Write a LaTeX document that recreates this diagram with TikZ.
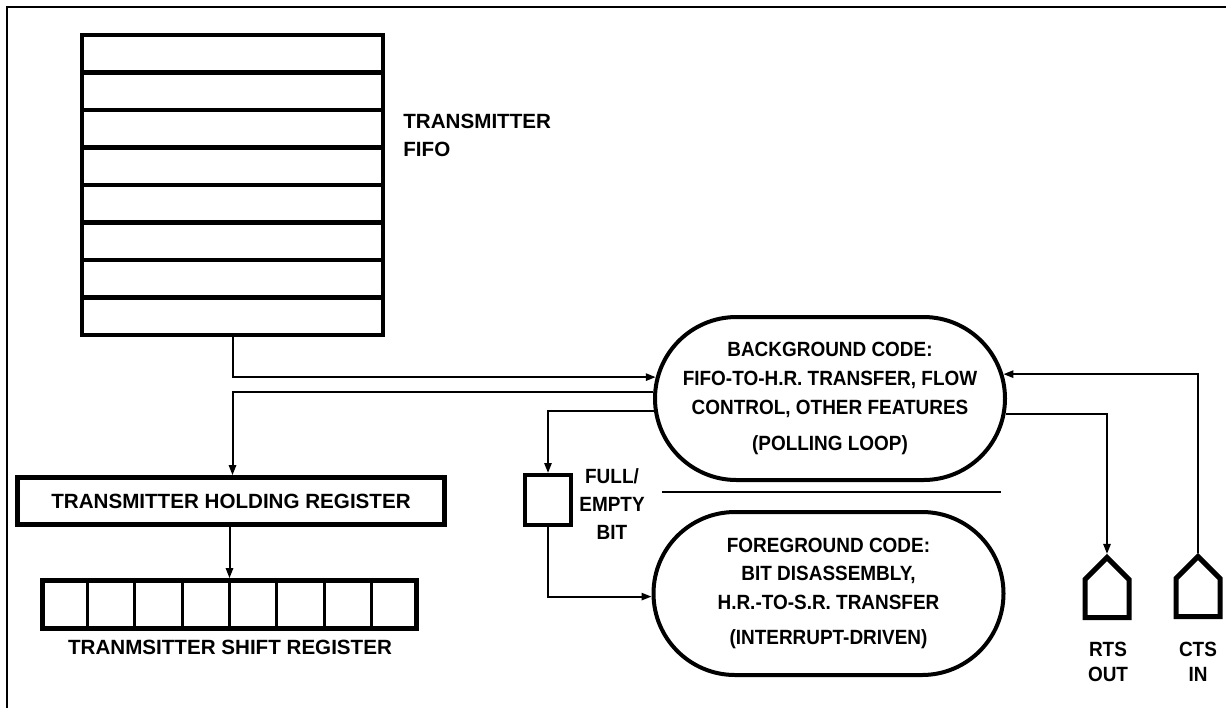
\documentclass[tikz,border=0pt]{standalone}
\usepackage{fontspec}
\setmainfont{Liberation Sans}
\newfontfamily\narrowsans[FakeStretch=0.92]{Liberation Sans}
\usetikzlibrary{positioning,calc,arrows.meta,shapes.misc,shapes.symbols}

\tikzset{
  lbl/.style={font=\fontsize{10.3}{14.3}\selectfont\bfseries, inner sep=0pt},
  nlbl/.style={lbl, font=\narrowsans\fontsize{10.3}{14.3}\selectfont\bfseries},
  heavy/.style={draw, line width=2.3pt, inner sep=0pt},
  wire/.style={line width=1pt},
  arr/.style={wire, -{Triangle[length=5pt,width=3.6pt]}},
  codeloop/.style={draw, line width=2pt, rounded rectangle, inner sep=0pt,
    minimum width=175pt, minimum height=81.5pt},
  port/.style={heavy, line width=2.5pt, signal, signal to=north, signal from=nowhere,
    minimum width=22pt, minimum height=19pt, anchor=south},
}

\begin{document}
\begin{tikzpicture}[x=0.5pt,y=-0.5pt]
  \useasboundingbox (0,0) rectangle (1226,708);
  % Frame
  \draw[wire] (7,708) -- (7,7) -- (1226,7);
  % FIFO
  \node[heavy, outer sep=0pt, minimum width=150.5pt, minimum height=150pt] (fifo) at (232.5,185) {};
  \foreach \i in {1,...,7}
    \draw[line width=2.3pt] ($(fifo.north west)!\i/8!(fifo.south west)$) -- ($(fifo.north east)!\i/8!(fifo.south east)$);
  \node[lbl, align=left, anchor=west] (fifolbl) at (403,135.5) {TRANSMITTER\\FIFO};
  % Holding register
  \node[heavy, lbl, minimum width=213.5pt, minimum height=23.5pt] (thr) at (231,501) {TRANSMITTER HOLDING REGISTER};
  % Shift register
  \node[heavy, minimum width=187pt, minimum height=24pt] (tsr) at (229.5,604.5) {};
  \foreach \i in {1,...,7}
    \draw[line width=1.4pt] ($(tsr.north west)!\i/8!(tsr.north east)$) -- ($(tsr.south west)!\i/8!(tsr.south east)$);
  \node[lbl] (tsrlbl) at (230,647) {TRANMSITTER SHIFT REGISTER};
  % Full/empty bit
  \node[heavy, line width=2pt, minimum width=23pt, minimum height=25pt] (feb) at (548,500) {};
  \node[nlbl, align=center, font=\narrowsans\fontsize{10.3}{13.8}\selectfont\bfseries] (feblbl) at (612,504) {FULL/\\EMPTY\\BIT};
  % Background and foreground code
  \node[codeloop] (bg) at (830,398.5) {};
  \node[nlbl, align=center] (bgtxt) at (bg.center) {BACKGROUND CODE:\\FIFO-TO-H.R. TRANSFER, FLOW\\CONTROL, OTHER FEATURES\\[3.7pt](POLLING LOOP)};
  \node[codeloop] (fg) at (828.5,593.5) {};
  \node[nlbl, align=center] (fgtxt) at (fg.center) {FOREGROUND CODE:\\BIT DISASSEMBLY,\\H.R.-TO-S.R. TRANSFER\\[3.5pt](INTERRUPT-DRIVEN)};
  \draw[wire] (662,492) -- (1001,492);
  % RTS / CTS pins
  \node[port] (rts) at (1107,620) {};
  \node[port] (cts) at (1198,619) {};
  \node[nlbl, align=center, font=\narrowsans\fontsize{10.3}{12.5}\selectfont\bfseries] (rtslbl) at (1108,662) {RTS\\OUT};
  \node[nlbl, align=center, font=\narrowsans\fontsize{10.3}{12.5}\selectfont\bfseries] (ctslbl) at (1198,662) {CTS\\IN};
  % Connections
  \draw[arr] (fifo.south) |- (bg.173);
  \draw[arr] (bg.178) -| (fifo.south |- thr.north);
  \draw[arr] (bg.184) -| (feb.north);
  \draw[arr] (feb.south) |- (fg.181);
  \draw[arr] (tsr.north |- thr.south) -- (tsr.north);
  \draw[arr] (bg.355) -| (rts.north);
  \draw[arr] (cts.north) |- (bg.8);
\end{tikzpicture}
\end{document}
